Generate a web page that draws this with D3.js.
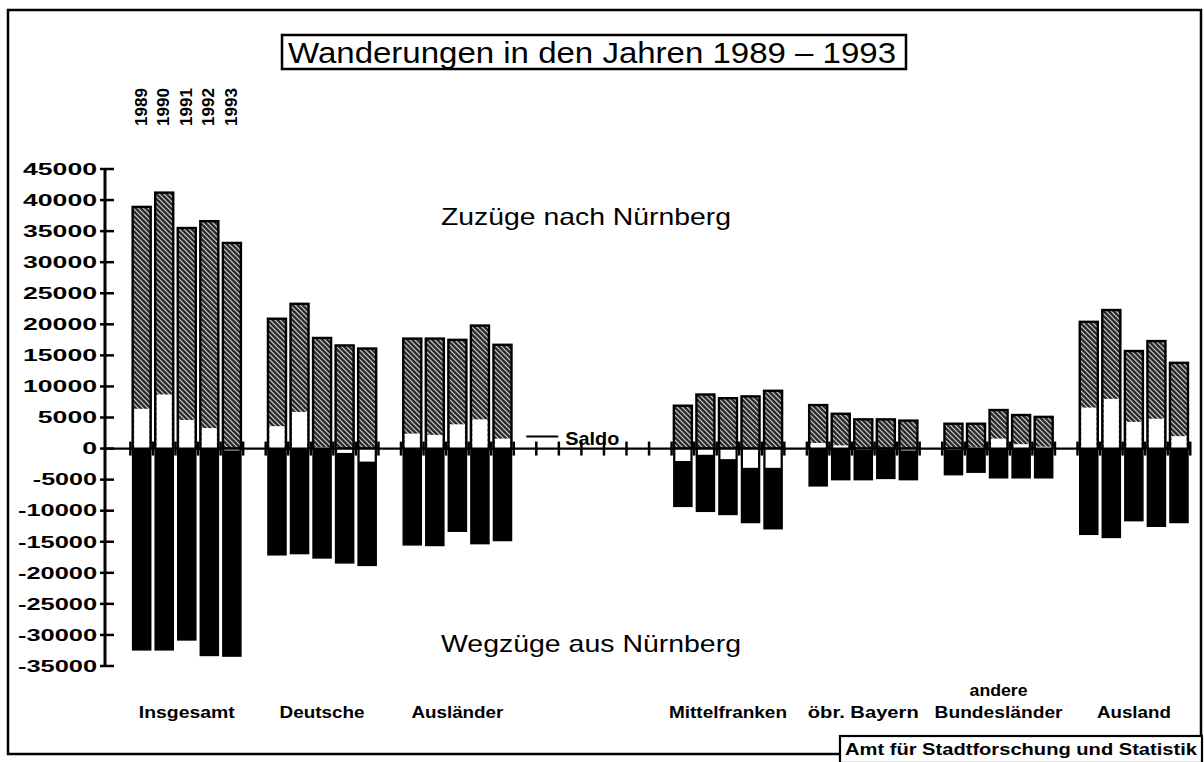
<!DOCTYPE html>
<html><head><meta charset="utf-8">
<script src="https://cdn.jsdelivr.net/npm/d3@7"></script>
<style>body{margin:0;background:#fff}svg{display:block}</style>
</head><body>
<svg id="c" width="1204" height="762"></svg>
<script>
// ---------- data ----------
const years = ["1989", "1990", "1991", "1992", "1993"];
const categories = ["Insgesamt", "Deutsche", "Ausländer", "Mittelfranken", "öbr. Bayern", "andere Bundesländer", "Ausland"];
// Zuzüge nach Nürnberg (rows = categories, columns = years)
const zuzuege = [
  [38900, 41200, 35500, 36600, 33100],
  [20900, 23300, 17800, 16600, 16100],
  [17700, 17700, 17500, 19800, 16700],
  [6900, 8700, 8100, 8400, 9300],
  [7000, 5600, 4700, 4700, 4500],
  [4000, 4000, 6200, 5400, 5100],
  [20400, 22300, 15700, 17300, 13800]
];
// Wegzüge aus Nürnberg
const wegzuege = [
  [32400, 32400, 30800, 33300, 33400],
  [17100, 16900, 17600, 18400, 18800],
  [15500, 15600, 13300, 15300, 14800],
  [9300, 10100, 10600, 11900, 12900],
  [6000, 5000, 5000, 4800, 5000],
  [4200, 3800, 4700, 4700, 4700],
  [13800, 14300, 11600, 12500, 11900]
];
// Saldo
const saldo = [
  [6400, 8700, 4600, 3300, -300],
  [3600, 5900, 200, -700, -2100],
  [2400, 2200, 3900, 4700, 1600],
  [-2000, -1000, -1700, -3100, -3100],
  [900, 500, -200, -100, -300],
  [-200, 200, 1600, 700, 300],
  [6600, 8000, 4300, 4800, 2000]
];
const yTicks = [45000, 40000, 35000, 30000, 25000, 20000, 15000, 10000, 5000, 0, -5000, -10000, -15000, -20000, -25000, -30000, -35000];
const titleText = "Wanderungen in den Jahren 1989 \u2013 1993";
const upperText = "Zuzüge nach Nürnberg";
const lowerText = "Wegzüge aus Nürnberg";
const legendText = "Saldo";
const footerText = "Amt für Stadtforschung und Statistik";

// ---------- layout ----------
const svg = d3.select("#c");
const BOLD = "'Liberation Sans', Arial, sans-serif";
const y = d3.scaleLinear().domain([-35000, 45000]).range([666, 169]);
const GAP = "__gap";
const groupDomain = [categories[0], categories[1], categories[2], GAP, categories[3], categories[4], categories[5], categories[6]];
const x0 = d3.scaleBand().domain(groupDomain).range([130.4, 1190.25]).paddingInner(1 / 6).paddingOuter(0);
const x1 = d3.scaleBand().domain(years).range([0, x0.bandwidth()]).paddingInner(0.2).paddingOuter(0.1);
const slot = x1.step();
const y0 = y(0);

// pattern
const defs = svg.append("defs");
const pat = defs.append("pattern").attr("id", "hatch").attr("patternUnits", "userSpaceOnUse")
  .attr("width", 5).attr("height", 5);
pat.append("rect").attr("width", 5).attr("height", 5).attr("fill", "#2a2a2a");
pat.append("path").attr("d", "M0,0 L5,5 M-1,4 L1,6 M4,-1 L6,1")
  .attr("stroke", "#d0d0d0").attr("stroke-width", 1.2);

// frame
svg.append("rect").attr("x", 8).attr("y", 10).attr("width", 1193).attr("height", 744)
  .attr("fill", "none").attr("stroke", "#000").attr("stroke-width", 2.5);

// title
svg.append("rect").attr("x", 282).attr("y", 35).attr("width", 624).attr("height", 34)
  .attr("fill", "#fff").attr("stroke", "#000").attr("stroke-width", 2.5);
svg.append("text").attr("x", 288).attr("y", 63).text(titleText)
  .attr("font-family", "'Liberation Sans Narrow', 'Liberation Sans', sans-serif").attr("font-size", 30)
  .attr("textLength", 608).attr("lengthAdjust", "spacingAndGlyphs");

// year labels (vertical, above first group)
svg.append("g").selectAll("text").data(years).join("text")
  .attr("transform", d => `translate(${x0(categories[0]) + x1(d) + x1.bandwidth() / 2 - 1},126) rotate(-90)`)
  .attr("font-family", BOLD).attr("font-weight", "bold").attr("font-size", 17)
  .attr("textLength", 38).attr("lengthAdjust", "spacingAndGlyphs")
  .attr("dy", "0.36em")
  .text(d => d);

// y axis
const ax = svg.append("g");
ax.append("line").attr("x1", 105).attr("x2", 105).attr("y1", y(45000)).attr("y2", y(-35000))
  .attr("stroke", "#000").attr("stroke-width", 3);
ax.selectAll("line.t").data(yTicks).join("line").attr("class", "t")
  .attr("x1", 100).attr("x2", 114).attr("y1", d => y(d)).attr("y2", d => y(d))
  .attr("stroke", "#000").attr("stroke-width", 2.5);
ax.selectAll("text").data(yTicks).join("text")
  .attr("x", 97).attr("y", d => y(d)).attr("dy", "0.36em").attr("text-anchor", "end")
  .attr("font-family", BOLD).attr("font-weight", "bold").attr("font-size", 16)
  .attr("textLength", d => { const s = String(d); const n = s.replace("-", "").length; return n * 14.8 + (d < 0 ? 5 : 0); })
  .attr("lengthAdjust", "spacingAndGlyphs")
  .text(d => d);

// bars
const flat = [];
categories.forEach((c, ci) => years.forEach((yr, yi) => flat.push({ c, yr, z: zuzuege[ci][yi], w: wegzuege[ci][yi], s: saldo[ci][yi] })));
const bx = d => x0(d.c) + x1(d.yr);
const bw = x1.bandwidth();
const bars = svg.append("g");
bars.selectAll("rect.z").data(flat).join("rect").attr("class", "z")
  .attr("x", bx).attr("width", bw).attr("y", d => y(d.z)).attr("height", d => y0 - y(d.z))
  .attr("fill", "url(#hatch)").attr("stroke", "#000").attr("stroke-width", 2.4);
bars.selectAll("rect.w").data(flat).join("rect").attr("class", "w")
  .attr("x", bx).attr("width", bw).attr("y", y0).attr("height", d => y(-d.w) - y0)
  .attr("fill", "#000").attr("stroke", "#000").attr("stroke-width", 1.5);
bars.selectAll("rect.s").data(flat.filter(d => d.s !== 0)).join("rect").attr("class", "s")
  .attr("x", d => bx(d) + 1.5).attr("width", bw - 3)
  .attr("y", d => Math.min(y(d.s), y0)).attr("height", d => Math.abs(y(d.s) - y0))
  .attr("fill", "#fff");

// zero line with slot ticks
svg.append("line").attr("x1", 105).attr("x2", 1190).attr("y1", y0).attr("y2", y0)
  .attr("stroke", "#000").attr("stroke-width", 2.2);
const tickXs = [];
groupDomain.forEach(g => { for (let k = 0; k <= years.length; k++) tickXs.push(x0(g) + k * slot); });
svg.append("g").selectAll("line").data(tickXs).join("line")
  .attr("x1", d => d).attr("x2", d => d).attr("y1", y0 - 7).attr("y2", y0 + 7)
  .attr("stroke", "#000").attr("stroke-width", 2.5);

// legend "Saldo"
const lg = x0(GAP);
svg.append("line").attr("x1", lg - 10).attr("x2", lg + 22).attr("y1", y0 - 12).attr("y2", y0 - 12)
  .attr("stroke", "#000").attr("stroke-width", 2);
svg.append("text").attr("x", lg + 29).attr("y", y0 - 4).text(legendText)
  .attr("font-family", BOLD).attr("font-weight", "bold").attr("font-size", 19)
  .attr("textLength", 54).attr("lengthAdjust", "spacingAndGlyphs");

// upper / lower captions
svg.append("text").attr("x", 441).attr("y", 225).text(upperText)
  .attr("font-family", "'Liberation Sans', sans-serif").attr("font-size", 24)
  .attr("textLength", 290).attr("lengthAdjust", "spacingAndGlyphs");
svg.append("text").attr("x", 441).attr("y", 652).text(lowerText)
  .attr("font-family", "'Liberation Sans', sans-serif").attr("font-size", 24)
  .attr("textLength", 300).attr("lengthAdjust", "spacingAndGlyphs");

// category labels
const labelWidth = { "Insgesamt": 96, "Deutsche": 85, "Ausländer": 92, "Mittelfranken": 118, "öbr. Bayern": 111, "andere": 58, "Bundesländer": 128, "Ausland": 74 };
const cl = svg.append("g");
categories.forEach(c => {
  const cx = x0(c) + x0.bandwidth() / 2;
  const parts = c === "andere Bundesländer" ? ["andere", "Bundesländer"] : [c];
  parts.forEach((p, i) => {
    cl.append("text").attr("x", cx).attr("y", 718 - (parts.length - 1 - i) * 22)
      .attr("text-anchor", "middle")
      .attr("font-family", BOLD).attr("font-weight", "bold").attr("font-size", 17)
      .attr("textLength", labelWidth[p]).attr("lengthAdjust", "spacingAndGlyphs")
      .text(p);
  });
});

// footer
svg.append("rect").attr("x", 840).attr("y", 736).attr("width", 362).attr("height", 27)
  .attr("fill", "#fff").attr("stroke", "#000").attr("stroke-width", 2.2);
svg.append("text").attr("x", 845).attr("y", 755).text(footerText)
  .attr("font-family", "'Liberation Sans', sans-serif").attr("font-weight", "bold").attr("font-size", 17)
  .attr("textLength", 352).attr("lengthAdjust", "spacingAndGlyphs");
</script>
</body></html>
